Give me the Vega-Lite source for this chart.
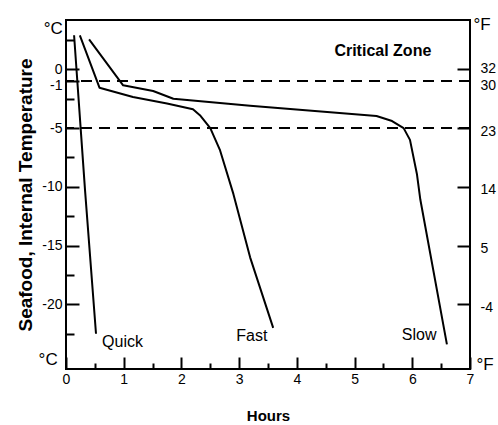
{
  "$schema": "https://vega.github.io/schema/vega-lite/v6.json",
  "width": 404,
  "height": 349,
  "autosize": "none",
  "padding": {"left": 66, "top": 20, "right": 28, "bottom": 56},
  "background": "white",
  "config": {
    "view": {"stroke": "black", "strokeWidth": 2},
    "font": "Liberation Sans",
    "text": {"font": "Liberation Sans", "color": "black"},
    "axis": {
      "domain": false, "grid": false,
      "labelFont": "Liberation Sans", "labelFontSize": 14, "labelColor": "black",
      "tickColor": "black", "tickWidth": 2,
      "titleColor": "black", "titleFont": "Liberation Sans",
      "labelOverlap": false, "labelBound": false, "labelFlush": false
    }
  },
  "datasets": {
    "curves": [
      {"series": "Quick", "hours": 0.14, "temp": 2.9},
      {"series": "Quick", "hours": 0.33, "temp": -10.3},
      {"series": "Quick", "hours": 0.52, "temp": -22.5},
      {"series": "Fast", "hours": 0.24, "temp": 2.9},
      {"series": "Fast", "hours": 0.58, "temp": -1.56},
      {"series": "Fast", "hours": 1.16, "temp": -2.36},
      {"series": "Fast", "hours": 1.75, "temp": -2.9},
      {"series": "Fast", "hours": 2.2, "temp": -3.4},
      {"series": "Fast", "hours": 2.32, "temp": -3.9},
      {"series": "Fast", "hours": 2.5, "temp": -5.0},
      {"series": "Fast", "hours": 2.67, "temp": -6.9},
      {"series": "Fast", "hours": 2.9, "temp": -10.6},
      {"series": "Fast", "hours": 3.19, "temp": -16.0},
      {"series": "Fast", "hours": 3.59, "temp": -22.0},
      {"series": "Slow", "hours": 0.4, "temp": 2.55},
      {"series": "Slow", "hours": 0.99, "temp": -1.36},
      {"series": "Slow", "hours": 1.51, "temp": -1.84},
      {"series": "Slow", "hours": 1.86, "temp": -2.5},
      {"series": "Slow", "hours": 3.19, "temp": -3.1},
      {"series": "Slow", "hours": 5.38, "temp": -3.97},
      {"series": "Slow", "hours": 5.65, "temp": -4.4},
      {"series": "Slow", "hours": 5.85, "temp": -5.0},
      {"series": "Slow", "hours": 5.96, "temp": -6.0},
      {"series": "Slow", "hours": 6.08, "temp": -8.9},
      {"series": "Slow", "hours": 6.14, "temp": -11.1},
      {"series": "Slow", "hours": 6.6, "temp": -23.4}
    ],
    "curveLabels": [
      {"hours": 0.98, "temp": -23.2, "label": "Quick"},
      {"hours": 3.22, "temp": -22.7, "label": "Fast"},
      {"hours": 6.12, "temp": -22.6, "label": "Slow"}
    ],
    "zone": [
      {"hours": 5.49, "temp": 1.6, "label": "Critical Zone"}
    ],
    "units": [
      {"hours": -0.22, "temp": 3.4, "label": "°C"},
      {"hours": -0.31, "temp": -24.7, "label": "°C"},
      {"hours": 7.21, "temp": 3.8, "label": "°F"},
      {"hours": 7.26, "temp": -25.2, "label": "°F"}
    ],
    "zones": [
      {"temp": -1},
      {"temp": -5}
    ]
  },
  "layer": [
    {
      "data": {"name": "zones"},
      "mark": {"type": "rule", "strokeDash": [11, 7], "strokeWidth": 2, "color": "black"},
      "encoding": {
        "y": {"field": "temp", "type": "quantitative", "scale": {"domain": [-25.5, 4.2], "nice": false, "zero": false}, "axis": null}
      }
    },
    {
      "data": {"name": "curves"},
      "mark": {"type": "line", "stroke": "black", "strokeWidth": 2, "strokeJoin": "round"},
      "encoding": {
        "x": {"field": "hours", "type": "quantitative", "scale": {"domain": [0, 7], "nice": false, "zero": false},
              "axis": {"orient": "bottom", "values": [0, 1, 2, 3, 4, 5, 6, 7], "format": "d", "tickSize": -12, "labelPadding": 15,
                       "title": "Hours", "titleFontSize": 15, "titleFontWeight": "bold", "titlePadding": 22}},
        "y": {"field": "temp", "type": "quantitative", "scale": {"domain": [-25.5, 4.2], "nice": false, "zero": false},
              "axis": {"orient": "left", "values": [0, -1, -5, -10, -15, -20], "labelExpr": "toString(datum.value)", "tickSize": -13, "labelPadding": 17,
                       "labelOffset": {"condition": {"test": "datum.value == -1", "value": 4}, "value": 0},
                       "title": "Seafood, Internal Temperature", "titleFontSize": 19, "titleFontWeight": "bold", "titlePadding": 6}},
        "detail": {"field": "series", "type": "nominal"}
      }
    },
    {
      "data": {"name": "curveLabels"},
      "mark": {"type": "text", "fontSize": 16, "baseline": "middle", "align": "center"},
      "encoding": {
        "x": {"field": "hours", "type": "quantitative", "scale": {"domain": [0, 7], "nice": false, "zero": false},
              "axis": {"orient": "bottom", "values": [0.5, 1.5, 2.5, 3.5, 4.5, 5.5, 6.5], "tickSize": -6, "labels": false, "title": null}},
        "y": {"field": "temp", "type": "quantitative", "scale": {"domain": [-25.5, 4.2], "nice": false, "zero": false},
              "axis": {"orient": "left", "values": [2.5, -2.5, -7.5, -12.5, -17.5, -22.5], "tickSize": -8, "labels": false, "title": null}},
        "text": {"field": "label"}
      }
    },
    {
      "data": {"name": "zone"},
      "mark": {"type": "text", "fontSize": 16, "fontWeight": "bold", "baseline": "middle", "align": "center"},
      "encoding": {
        "x": {"field": "hours", "type": "quantitative", "scale": {"domain": [0, 7], "nice": false, "zero": false}, "axis": null},
        "y": {"field": "temp", "type": "quantitative", "scale": {"domain": [-25.5, 4.2], "nice": false, "zero": false}, "axis": null},
        "text": {"field": "label"}
      }
    },
    {
      "data": {"name": "units"},
      "mark": {"type": "text", "fontSize": 17, "baseline": "middle", "align": "center"},
      "encoding": {
        "x": {"field": "hours", "type": "quantitative", "scale": {"domain": [0, 7], "nice": false, "zero": false}, "axis": null},
        "y": {"field": "temp", "type": "quantitative", "scale": {"domain": [-25.5, 4.2], "nice": false, "zero": false},
              "axis": {"orient": "right", "values": [0, -1.1111, -5, -10, -15, -20], "labelExpr": "toString(round(datum.value*9/5+32))",
                       "tickSize": {"condition": {"test": "datum.value < -1 && datum.value > -2", "value": 0}, "value": -13},
                       "labelPadding": {"condition": {"test": "datum.value < -1 && datum.value > -2", "value": 10}, "value": 23},
                       "labelOffset": {"condition": {"test": "datum.value == 0", "value": -1}, "value": 3},
                       "title": null}},
        "text": {"field": "label"}
      }
    }
  ],
  "resolve": {"scale": {"x": "independent", "y": "independent"}}
}
